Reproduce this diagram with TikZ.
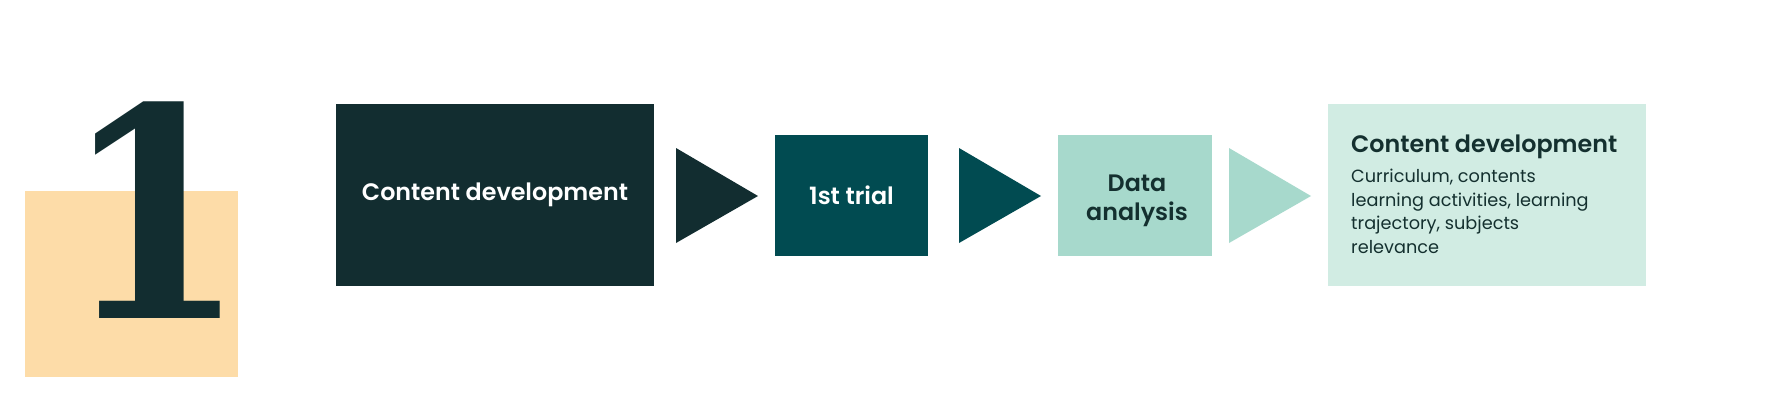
\documentclass[tikz,border=0pt]{standalone}
\usepackage{fontspec}
\setmainfont{Poppins}
\newfontfamily\semi{Poppins SemiBold}
\newfontfamily\onefont{DejaVu Serif Bold}
\definecolor{peach}{HTML}{FDDCA8}
\definecolor{darkg}{HTML}{122D30}
\definecolor{tealg}{HTML}{014B51}
\definecolor{mint}{HTML}{A7D9CC}
\definecolor{pale}{HTML}{D1ECE3}
\definecolor{inkg}{HTML}{14302F}
\begin{document}
\begin{tikzpicture}[x=1pt,y=-1pt,
  ttl/.style={font=\semi\fontsize{23.8}{28}\selectfont, inner sep=0pt},
  body/.style={font=\fontsize{17.7}{23.4}\selectfont, inner sep=0pt, align=left}]
\useasboundingbox[fill=white] (0,0) rectangle (1767,400);
% peach square and numeral
\fill[peach] (25,191) rectangle (238,377);
\node[inner sep=0pt, anchor=base, text=darkg, font=\onefont\fontsize{292}{292}\selectfont, xscale=0.9] (one) at (155,318) {1};
% boxes
\fill[darkg] (336,104) rectangle (654,286);
\node[ttl, text=white, anchor=base] (t1) at (495,200) {Content development};
\fill[tealg] (775,135) rectangle (928,256);
\node[ttl, text=white, anchor=base] (t2) at (851.5,204) {1st trial};
\fill[mint] (1058,135) rectangle (1212,256);
\node[ttl, text=inkg, anchor=base] (t3a) at (1137,191) {Data};
\node[ttl, text=inkg, anchor=base] (t3b) at (1137,220) {analysis};
\fill[pale] (1328,104) rectangle (1646,286);
\node[ttl, text=inkg, anchor=base west] (t4) at (1351,152) {Content development};
\node[body, text=inkg, anchor=base west] (t5) at (1351,253) {Curriculum, contents\\learning activities, learning\\trajectory, subjects\\relevance};
% arrow triangles
\fill[darkg] (676,148) -- (676,243) -- (758,196) -- cycle;
\fill[tealg] (959,148) -- (959,243) -- (1041,196) -- cycle;
\fill[mint] (1229,148) -- (1229,243) -- (1311,196) -- cycle;
\end{tikzpicture}
\end{document}
